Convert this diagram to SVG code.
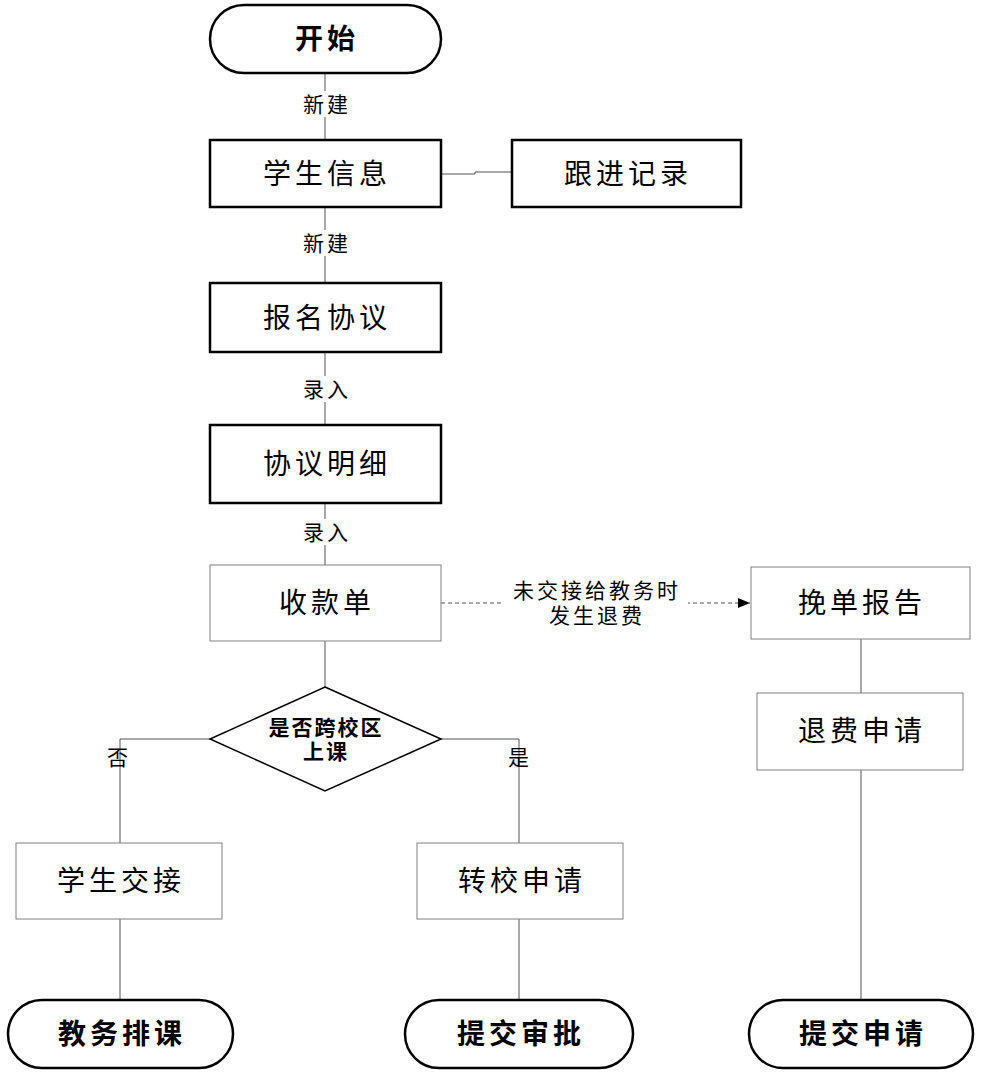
<svg xmlns="http://www.w3.org/2000/svg" width="982" height="1075" viewBox="0 0 982 1075">
<defs>
<style>
text{font-family:"Liberation Sans","Noto Sans CJK SC",sans-serif;text-anchor:middle;dominant-baseline:central;fill:#000}
.n{font-size:28px;letter-spacing:4px}
.b{font-size:28px;font-weight:bold;letter-spacing:4px}
.l{font-size:21px;letter-spacing:3px}
.thick{fill:#fff;stroke:#000;stroke-width:2.5}
.thin{fill:#fff;stroke:#808080;stroke-width:1}
.c{fill:none;stroke:#555;stroke-width:1}
</style>
<marker id="ar" markerWidth="12" markerHeight="10" refX="12" refY="5" orient="auto" markerUnits="userSpaceOnUse"><path d="M0,0 L12,5 L0,10Z" fill="#000"/></marker>
</defs>
<rect width="982" height="1075" fill="#fff"/>
<g id="connectors">
<line class="c" x1="325" y1="73" x2="325" y2="140"/>
<line class="c" x1="325" y1="207" x2="325" y2="283"/>
<polyline class="c" points="441,174 475,174 475,172 512,172"/>
<line class="c" x1="325" y1="352" x2="325" y2="425"/>
<line class="c" x1="325" y1="503" x2="325" y2="565"/>
<line class="c" x1="325" y1="641" x2="325" y2="687"/>
<line x1="441" y1="603" x2="750" y2="603" stroke="#555" stroke-dasharray="4,3" marker-end="url(#ar)"/>
<line class="c" x1="861" y1="639" x2="861" y2="693"/>
<line class="c" x1="861" y1="770" x2="861" y2="1000"/>
<polyline class="c" points="210,739 120,739 120,843"/>
<line class="c" x1="120" y1="919" x2="120" y2="1000"/>
<polyline class="c" points="441,739 519,739 519,843"/>
<line class="c" x1="519" y1="919" x2="519" y2="1000"/>
<rect x="295" y="91" width="60" height="26" fill="#fff"/>
<text class="l" x="327" y="104">新建</text>
<rect x="295" y="230" width="60" height="26" fill="#fff"/>
<text class="l" x="327" y="243">新建</text>
<rect x="295" y="376" width="60" height="26" fill="#fff"/>
<text class="l" x="327" y="389">录入</text>
<rect x="295" y="519" width="60" height="26" fill="#fff"/>
<text class="l" x="327" y="532">录入</text>
<rect x="502" y="577" width="186" height="52" fill="#fff"/>
<text class="l" x="597" y="590">未交接给教务时</text>
<text class="l" x="597" y="615">发生退费</text>
<text class="l" x="119" y="757">否</text>
<text class="l" x="520" y="757">是</text>
</g>
<g id="start"><rect class="thick" x="210" y="5" width="231" height="68" rx="34"/><text class="b" x="327" y="39">开始</text></g>
<g id="xsxx"><rect class="thick" x="210" y="140" width="231" height="67"/><text class="n" x="327" y="174">学生信息</text></g>
<g id="gjjl"><rect class="thick" x="512" y="140" width="229" height="67"/><text class="n" x="628" y="174">跟进记录</text></g>
<g id="bmxy"><rect class="thick" x="210" y="283" width="231" height="69"/><text class="n" x="327" y="318">报名协议</text></g>
<g id="xymx"><rect class="thick" x="210" y="425" width="231" height="78"/><text class="n" x="327" y="464">协议明细</text></g>
<g id="skd"><rect class="thin" x="210" y="565" width="231" height="76"/><text class="n" x="327" y="603">收款单</text></g>
<g id="wdbg"><rect class="thin" x="751" y="567" width="219" height="72"/><text class="n" x="862" y="603">挽单报告</text></g>
<g id="tfsq"><rect class="thin" x="757" y="693" width="206" height="77"/><text class="n" x="862" y="731">退费申请</text></g>
<g id="decision"><polygon points="325,687 441,739 325,791 210,739" fill="#fff" stroke="#000" stroke-width="1.5"/><text x="326" y="727" style="font-size:21px;font-weight:bold;letter-spacing:2px">是否跨校区</text><text x="326" y="751" style="font-size:21px;font-weight:bold;letter-spacing:2px">上课</text></g>
<g id="xsjj"><rect class="thin" x="16" y="843" width="206" height="76"/><text class="n" x="121" y="881">学生交接</text></g>
<g id="zxsq"><rect class="thin" x="417" y="843" width="206" height="76"/><text class="n" x="522" y="881">转校申请</text></g>
<g id="jwpk"><rect class="thick" x="8" y="1000" width="225" height="68" rx="34"/><text class="b" x="122" y="1034">教务排课</text></g>
<g id="tjsp"><rect class="thick" x="405" y="1000" width="228" height="68" rx="34"/><text class="b" x="521" y="1034">提交审批</text></g>
<g id="tjsq"><rect class="thick" x="749" y="1000" width="224" height="68" rx="34"/><text class="b" x="863" y="1034">提交申请</text></g>
</svg>
